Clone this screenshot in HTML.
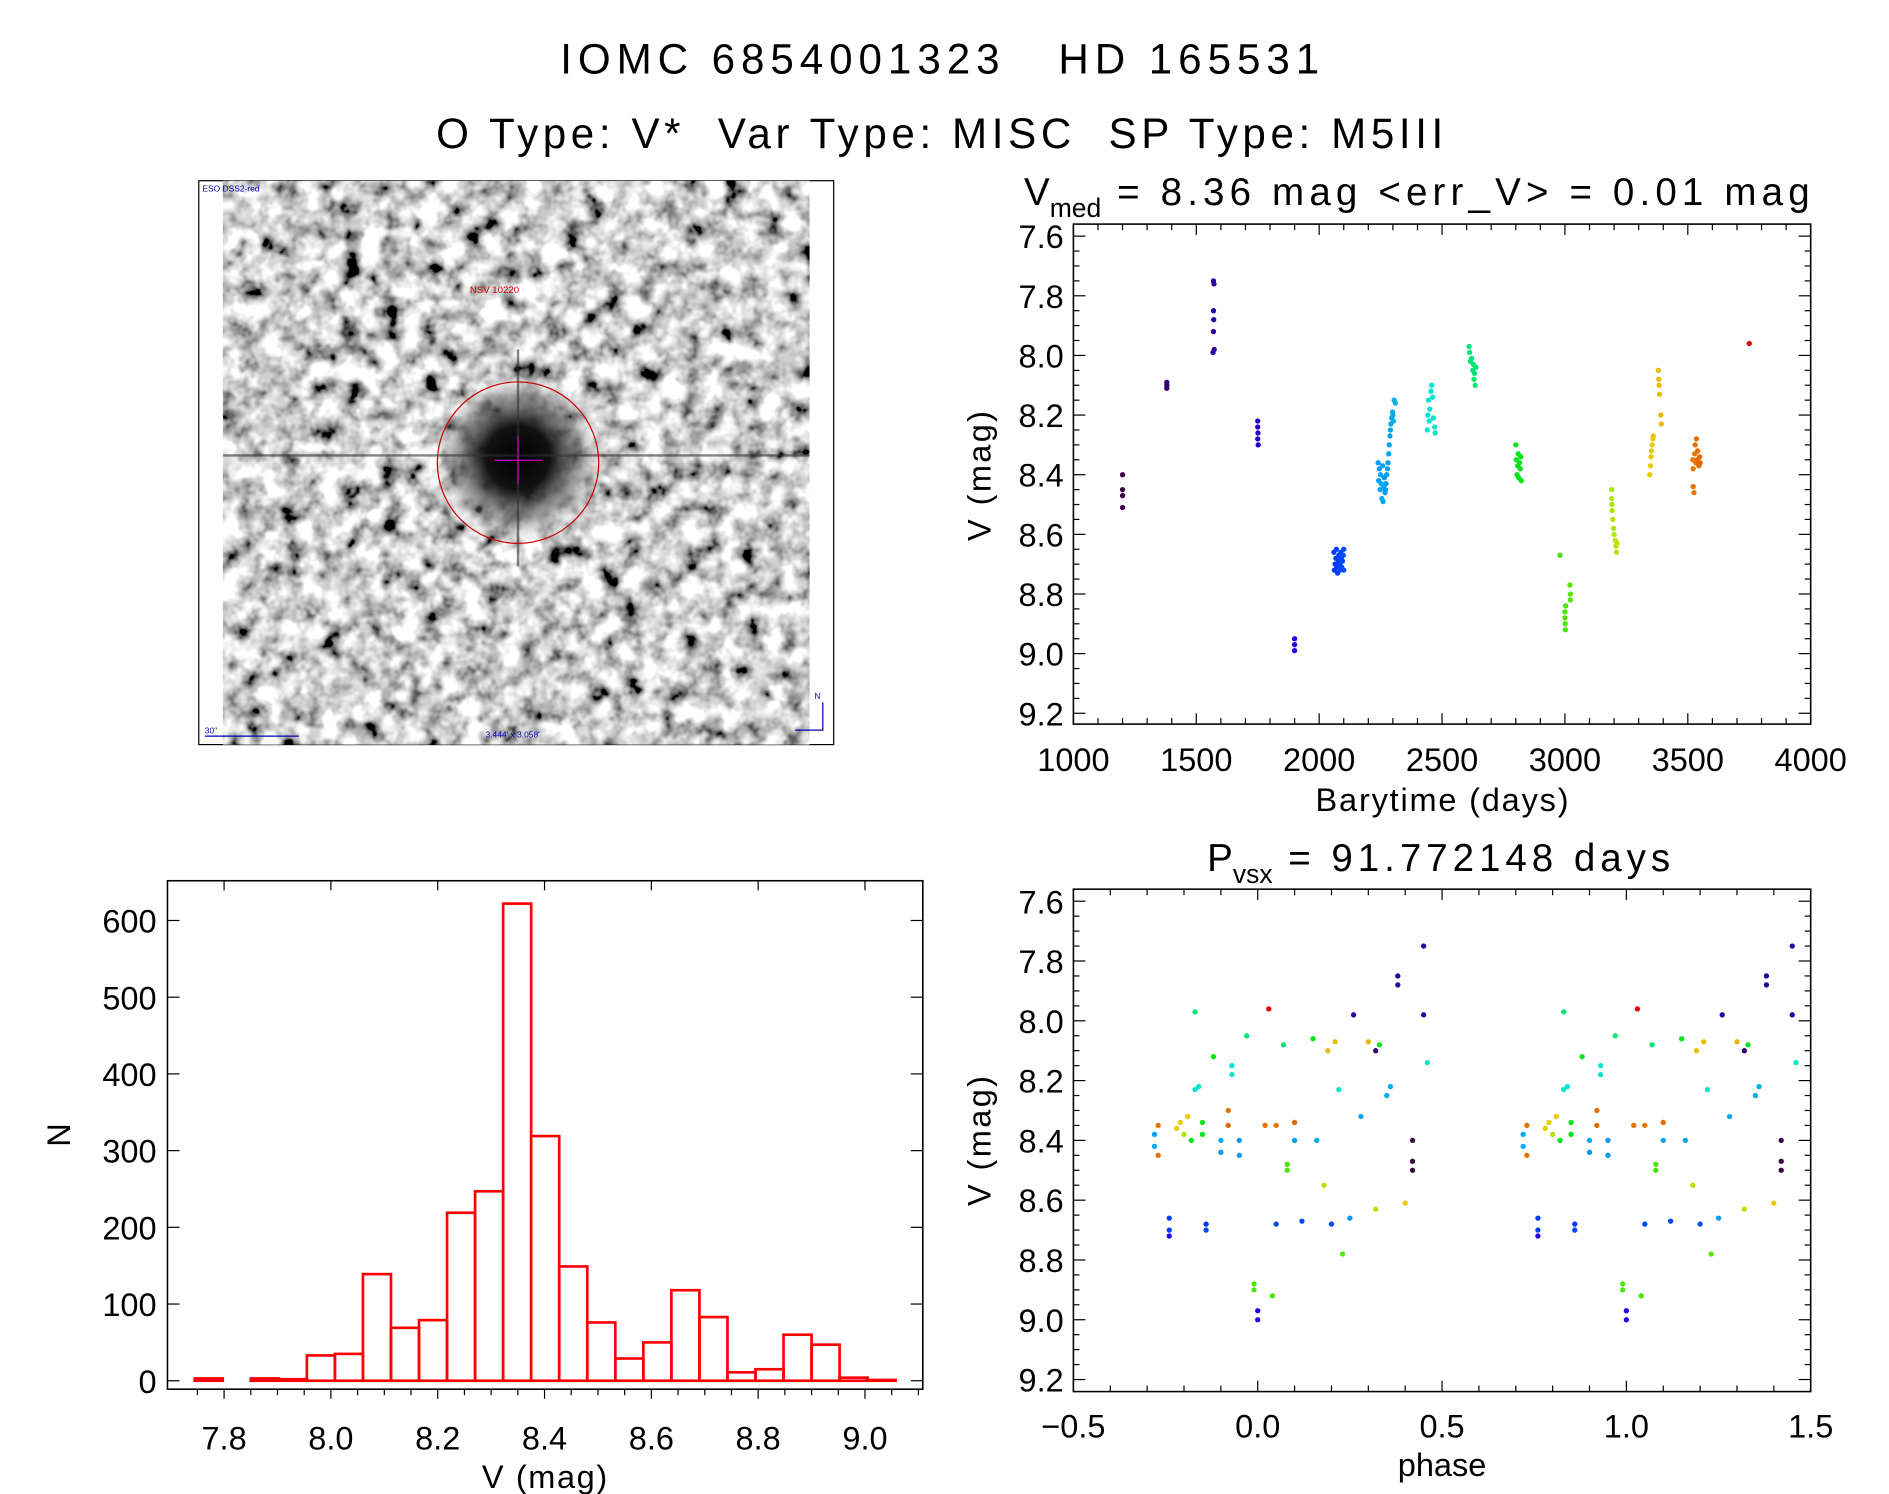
<!DOCTYPE html>
<html><head><meta charset="utf-8"><style>
html,body{margin:0;padding:0;background:#fff}
svg{display:block}
text{font-family:"Liberation Sans",sans-serif;fill:#000}
</style></head><body>
<svg id="fig" width="1889" height="1494" viewBox="0 0 1568 1240" preserveAspectRatio="none" xmlns="http://www.w3.org/2000/svg">
<defs>
<filter id="noise" x="0" y="0" width="100%" height="100%">
<feTurbulence type="fractalNoise" baseFrequency="0.06" numOctaves="3" seed="7"/>
<feColorMatrix type="matrix" values="0.33 0.33 0.33 0 0  0.33 0.33 0.33 0 0  0.33 0.33 0.33 0 0  0 0 0 0 1"/>
<feComponentTransfer><feFuncR type="linear" slope="-4" intercept="2.6"/><feFuncG type="linear" slope="-4" intercept="2.6"/><feFuncB type="linear" slope="-4" intercept="2.6"/></feComponentTransfer>
</filter>
<radialGradient id="star"><stop offset="0" stop-color="#000"/><stop offset="0.35" stop-color="#111"/><stop offset="0.7" stop-color="#555" stop-opacity="0.5"/><stop offset="1" stop-color="#fff" stop-opacity="0"/></radialGradient>
<clipPath id="imgclip"><rect x="185" y="150" width="487" height="468"/></clipPath>
</defs>
<text x="780" y="61" font-size="35" text-anchor="middle" textLength="630" lengthAdjust="spacing" xml:space="preserve">IOMC 6854001323   HD 165531</text>
<text x="780" y="123" font-size="35" text-anchor="middle" textLength="836" lengthAdjust="spacing" xml:space="preserve">O Type: V*  Var Type: MISC  SP Type: M5III</text>

<g>
<rect x="165" y="150" width="527" height="468" fill="#fff" stroke="#000" stroke-width="1"/>
<g clip-path="url(#imgclip)">
<rect x="185" y="150" width="487" height="468" filter="url(#noise)"/>
<circle cx="430" cy="380" r="75" fill="url(#star)"/>
<line x1="185" y1="378" x2="672" y2="378" stroke="#333" stroke-width="2" opacity="0.6"/>
<line x1="430" y1="290" x2="430" y2="470" stroke="#333" stroke-width="2" opacity="0.6"/>
</g>
<circle cx="430" cy="384" r="67" fill="none" stroke="#c00" stroke-width="1"/>
<line x1="410" y1="382" x2="450" y2="382" stroke="#b0b" stroke-width="1"/>
<line x1="430" y1="362" x2="430" y2="402" stroke="#b0b" stroke-width="1"/>
<text x="168" y="159" font-size="7" style="fill:#00a">ESO DSS2-red</text>
<text x="390" y="243" font-size="8" style="fill:#c00">NSV 10220</text>
<text x="170" y="609" font-size="7" style="fill:#00a">30"</text>
<line x1="170" y1="611" x2="248" y2="611" stroke="#00a" stroke-width="1"/>
<text x="403" y="612" font-size="7" style="fill:#00a">3.444' x 3.058'</text>
<text x="676" y="580" font-size="7" style="fill:#00a">N</text>
<path d="M683 583 V606 H660" fill="none" stroke="#00a" stroke-width="1"/>
</g>

<g id="lc"></g>
<g id="ph"></g>
<g id="hist"></g>
</svg>
<script>
// ---------- data ----------
const lcTimes = [1200,1200,1200,1200,1380,1380,1380,1570,1572,1570,1571,1570,1568,1573,1750,1750,1751,1750,1752,1900,1900,1900,
2060,2062,2065,2068,2070,2072,2075,2078,2080,2083,2085,2088,2090,2092,2095,2098,2100,2100,
2240,2242,2245,2248,2250,2252,2255,2258,2260,2262,2265,2268,2270,2272,2275,2278,2280,2283,2285,2288,2290,2292,2295,2298,2300,2302,2305,2310,
2440,2442,2445,2448,2450,2455,2458,2462,2465,2470,2472,
2610,2612,2615,2620,2625,2628,2630,2632,2635,2638,
2800,2802,2805,2808,2810,2812,2815,2818,2820,2822,
2980,3000,3000,3001,3002,3003,3020,3022,3022,
3190,3190,3191,3192,3195,3198,3200,3205,3208,3210,3212,
3345,3348,3350,3352,3355,3358,3360,3380,3382,3383,3385,3390,3392,
3520,3522,3525,3528,3530,3533,3535,3538,3540,3545,3548,3550,3522,
3750];
const lcMags = [8.40,8.45,8.47,8.51,8.09,8.10,8.11,7.75,7.76,7.85,7.88,7.92,7.99,7.98,8.22,8.24,8.26,8.28,8.30,8.95,8.97,8.99,
8.66,8.72,8.70,8.68,8.65,8.71,8.73,8.69,8.67,8.70,8.72,8.66,8.68,8.71,8.69,8.67,8.65,8.72,
8.36,8.42,8.38,8.45,8.40,8.43,8.48,8.37,8.49,8.44,8.41,8.46,8.45,8.43,8.40,8.38,8.36,8.33,8.30,8.27,8.25,8.23,8.21,8.19,8.20,8.22,8.15,8.16,
8.25,8.20,8.15,8.22,8.18,8.12,8.10,8.14,8.21,8.24,8.26,
7.97,7.99,8.02,8.01,8.05,8.03,8.08,8.06,8.10,8.04,
8.30,8.35,8.40,8.37,8.33,8.41,8.36,8.38,8.34,8.42,
8.67,8.86,8.88,8.90,8.92,8.84,8.77,8.80,8.82,
8.45,8.48,8.50,8.52,8.55,8.58,8.60,8.62,8.64,8.66,8.63,
8.40,8.37,8.34,8.32,8.30,8.28,8.27,8.05,8.08,8.10,8.13,8.20,8.23,
8.35,8.38,8.46,8.33,8.30,8.36,8.28,8.35,8.32,8.37,8.34,8.36,8.44,
7.96];
const phPhase = [-0.28,-0.28,-0.27,-0.27,-0.24,-0.24,-0.24,-0.21,-0.2,-0.19,-0.18,-0.17,-0.17,-0.16,-0.15,-0.15,-0.14,-0.14,-0.1,-0.1,-0.08,-0.08,-0.07,-0.07,-0.05,-0.05,-0.03,-0.01,-0.01,0.0,0.0,0.02,0.03,0.04,0.05,0.07,0.08,0.08,0.1,0.1,0.12,0.15,0.16,0.18,0.2,0.21,0.22,0.23,0.25,0.26,0.28,0.3,0.32,0.32,0.35,0.36,0.38,0.38,0.4,0.42,0.42,0.42,0.45,0.45,0.46,-0.22,-0.12,0.05,0.19,0.33];
const phMags = [8.38,8.42,8.35,8.45,8.66,8.70,8.72,8.34,8.38,8.32,8.40,7.97,8.23,8.22,8.34,8.38,8.68,8.70,8.40,8.44,8.30,8.35,8.15,8.18,8.40,8.45,8.05,8.88,8.90,8.97,9.00,8.35,7.96,8.92,8.68,8.08,8.48,8.50,8.40,8.34,8.67,8.06,8.40,8.55,8.68,8.07,8.23,8.78,8.66,7.98,8.32,8.07,8.63,8.10,8.25,8.22,7.85,7.88,8.61,8.40,8.47,8.50,7.75,7.98,8.14,8.36,8.12,8.35,8.10,8.08];
const phTimes = [2250,2255,3530,3535,2070,2080,1900,3350,3190,3355,2810,2620,2450,2445,2805,2815,2065,2085,2260,2265,3540,3545,2460,2465,2270,2275,2625,3000,3002,1900,1901,3528,3750,3001,2090,2630,2990,2995,2280,3548,2095,2800,2285,3195,2100,3385,2450,3020,2240,1570,2290,3390,3210,1380,2300,2305,1572,1570,3360,1200,1200,1200,1570,1572,2470,3345,2830,3525,3380,2800];
const histBinStart = 7.745, histBinWidth = 0.0525;
const histCounts = [3,0,3,2,33,35,139,69,79,219,247,622,319,149,76,29,50,118,83,11,15,60,47,4,1];
const lcXTicks = [1000,1500,2000,2500,3000,3500,4000];
const magTicks = [7.6,7.8,8.0,8.2,8.4,8.6,8.8,9.0,9.2];
const phXTicks = [-0.5,0.0,0.5,1.0,1.5];
const phXTickLabels = ["\u22120.5","0.0","0.5","1.0","1.5"];
const histXTicks = [7.8,8.0,8.2,8.4,8.6,8.8,9.0];
const histYTicks = [0,100,200,300,400,500,600];

const NS="http://www.w3.org/2000/svg";
function mk(parent,tag,attrs,txt){const e=document.createElementNS(NS,tag);for(const k in attrs)e.setAttribute(k,attrs[k]);if(txt!==undefined)e.textContent=txt;parent.appendChild(e);return e;}
function lin(d0,d1,r0,r1){return v=>r0+(v-d0)*(r1-r0)/(d1-d0);}
function colorOf(t){
  const f=Math.max(0,Math.min(1,(t-1200)/(3750-1200)));
  if(f<0.3){const k=f/0.3;return `rgb(${Math.round(60-30*k)},0,${Math.round(70+180*k)})`;}
  const h=240-(f-0.3)/0.7*240;return `hsl(${h},100%,${h>200?50:45}%)`;
}
function frame(g,L,T,R,B){mk(g,'rect',{x:L,y:T,width:R-L,height:B-T,fill:'none',stroke:'#000','stroke-width':1.3});}
const R_DOT=2.2;

// ---------- light curve ----------
(function(){
  const g=document.getElementById('lc');
  const L=891,R=1503,T=186,B=601;
  const x=lin(1000,4000,L,R), y=lin(7.6,9.2,196,592);
  frame(g,L,T,R,B);
  for(let v=1000;v<=4000;v+=100){const big=v%500===0;mk(g,'line',{x1:x(v),x2:x(v),y1:B,y2:B-(big?9:5),stroke:'#000'});mk(g,'line',{x1:x(v),x2:x(v),y1:T,y2:T+(big?9:5),stroke:'#000'});}
  for(let v=7.6;v<=9.21;v+=0.05){const big=Math.abs(v*5-Math.round(v*5))<1e-6;mk(g,'line',{x1:L,x2:L+(big?10:5),y1:y(v),y2:y(v),stroke:'#000'});mk(g,'line',{x1:R,x2:R-(big?10:5),y1:y(v),y2:y(v),stroke:'#000'});}
  lcXTicks.forEach(v=>{const t=mk(g,'text',{x:x(v),y:640,'font-size':27,'text-anchor':'middle'},String(v));});
  magTicks.forEach(v=>{const t=mk(g,'text',{x:883,y:y(v)+10,'font-size':27,'text-anchor':'end'},v.toFixed(1));});
  const xt=mk(g,'text',{x:1197,y:673,'font-size':27,'text-anchor':'middle',textLength:210,lengthAdjust:'spacing'},'Barytime (days)');
  
  const yt=mk(g,'text',{x:822,y:395,'font-size':27,'text-anchor':'middle',transform:'rotate(-90 822 395)',textLength:108,lengthAdjust:'spacing'},'V (mag)');
  
  const tt=mk(g,'text',{x:850,y:170,'font-size':32,'text-anchor':'start'});
  
  tt.innerHTML='V<tspan font-size="22" dy="10">med</tspan><tspan dy="-10" textLength="588" lengthAdjust="spacing"> = 8.36 mag &lt;err_V&gt; = 0.01 mag</tspan>';
  lcTimes.forEach((t,i)=>{const c=mk(g,'circle',{cx:x(t),cy:y(lcMags[i]),r:R_DOT,fill:colorOf(t)});});
})();

// ---------- phase ----------
(function(){
  const g=document.getElementById('ph');
  const L=891,R=1503,T=738,B=1155;
  const x=lin(-0.5,1.5,L,R), y=lin(7.6,9.2,748,1145);
  frame(g,L,T,R,B);
  for(let i=0;i<=20;i++){const v=-0.5+i*0.1;const big=i%5===0;mk(g,'line',{x1:x(v),x2:x(v),y1:B,y2:B-(big?9:5),stroke:'#000'});mk(g,'line',{x1:x(v),x2:x(v),y1:T,y2:T+(big?9:5),stroke:'#000'});}
  for(let v=7.6;v<=9.21;v+=0.05){const big=Math.abs(v*5-Math.round(v*5))<1e-6;mk(g,'line',{x1:L,x2:L+(big?10:5),y1:y(v),y2:y(v),stroke:'#000'});mk(g,'line',{x1:R,x2:R-(big?10:5),y1:y(v),y2:y(v),stroke:'#000'});}
  phXTicks.forEach((v,i)=>{const t=mk(g,'text',{x:x(v),y:1193,'font-size':27,'text-anchor':'middle'},phXTickLabels[i]);});
  magTicks.forEach(v=>{const t=mk(g,'text',{x:883,y:y(v)+10,'font-size':27,'text-anchor':'end'},v.toFixed(1));});
  const xt=mk(g,'text',{x:1197,y:1225,'font-size':27,'text-anchor':'middle'},'phase');
  
  const yt=mk(g,'text',{x:822,y:947,'font-size':27,'text-anchor':'middle',transform:'rotate(-90 822 947)',textLength:108,lengthAdjust:'spacing'},'V (mag)');
  
  const tt=mk(g,'text',{x:1002,y:723,'font-size':32,'text-anchor':'start'});
  
  tt.innerHTML='P<tspan font-size="22" dy="10">vsx</tspan><tspan dy="-10" textLength="330" lengthAdjust="spacing"> = 91.772148 days</tspan>';
  phPhase.forEach((p,i)=>{[0,1].forEach(o=>{const c=mk(g,'circle',{cx:x(p+o),cy:y(phMags[i]),r:R_DOT,fill:colorOf(phTimes[i])});});});
})();

// ---------- histogram ----------
(function(){
  const g=document.getElementById('hist');
  const L=139,R=766,T=731,B=1153;
  const x=lin(7.8,9.0,186,718), y=lin(0,600,1146,764);
  frame(g,L,T,R,B);
  for(let i=-1;i<=26;i++){const v=7.8+i*0.05;if(x(v)<L||x(v)>R)continue;const big=i%4===0;mk(g,'line',{x1:x(v),x2:x(v),y1:B,y2:B+(big?8:5),stroke:'#000'});mk(g,'line',{x1:x(v),x2:x(v),y1:T,y2:T+(big?8:0),stroke:'#000'});}
  histYTicks.forEach(v=>{mk(g,'line',{x1:L,x2:L+10,y1:y(v),y2:y(v),stroke:'#000'});mk(g,'line',{x1:R,x2:R-10,y1:y(v),y2:y(v),stroke:'#000'});
    const t=mk(g,'text',{x:130,y:y(v)+10,'font-size':27,'text-anchor':'end'},String(v));});
  histXTicks.forEach(v=>{const t=mk(g,'text',{x:x(v),y:1203,'font-size':27,'text-anchor':'middle'},v.toFixed(1));});
  const xt=mk(g,'text',{x:452,y:1235,'font-size':27,'text-anchor':'middle',textLength:104,lengthAdjust:'spacing'},'V (mag)');
  
  const yt=mk(g,'text',{x:58,y:942,'font-size':27,'text-anchor':'middle',transform:'rotate(-90 58 942)'},'N');
  
  histCounts.forEach((n,i)=>{const a=histBinStart+i*histBinWidth;const r=mk(g,'rect',{x:x(a),y:y(n),width:x(a+histBinWidth)-x(a),height:y(0)-y(n),fill:'none',stroke:'#f00','stroke-width':2.2});});
})();
</script>
</body></html>
